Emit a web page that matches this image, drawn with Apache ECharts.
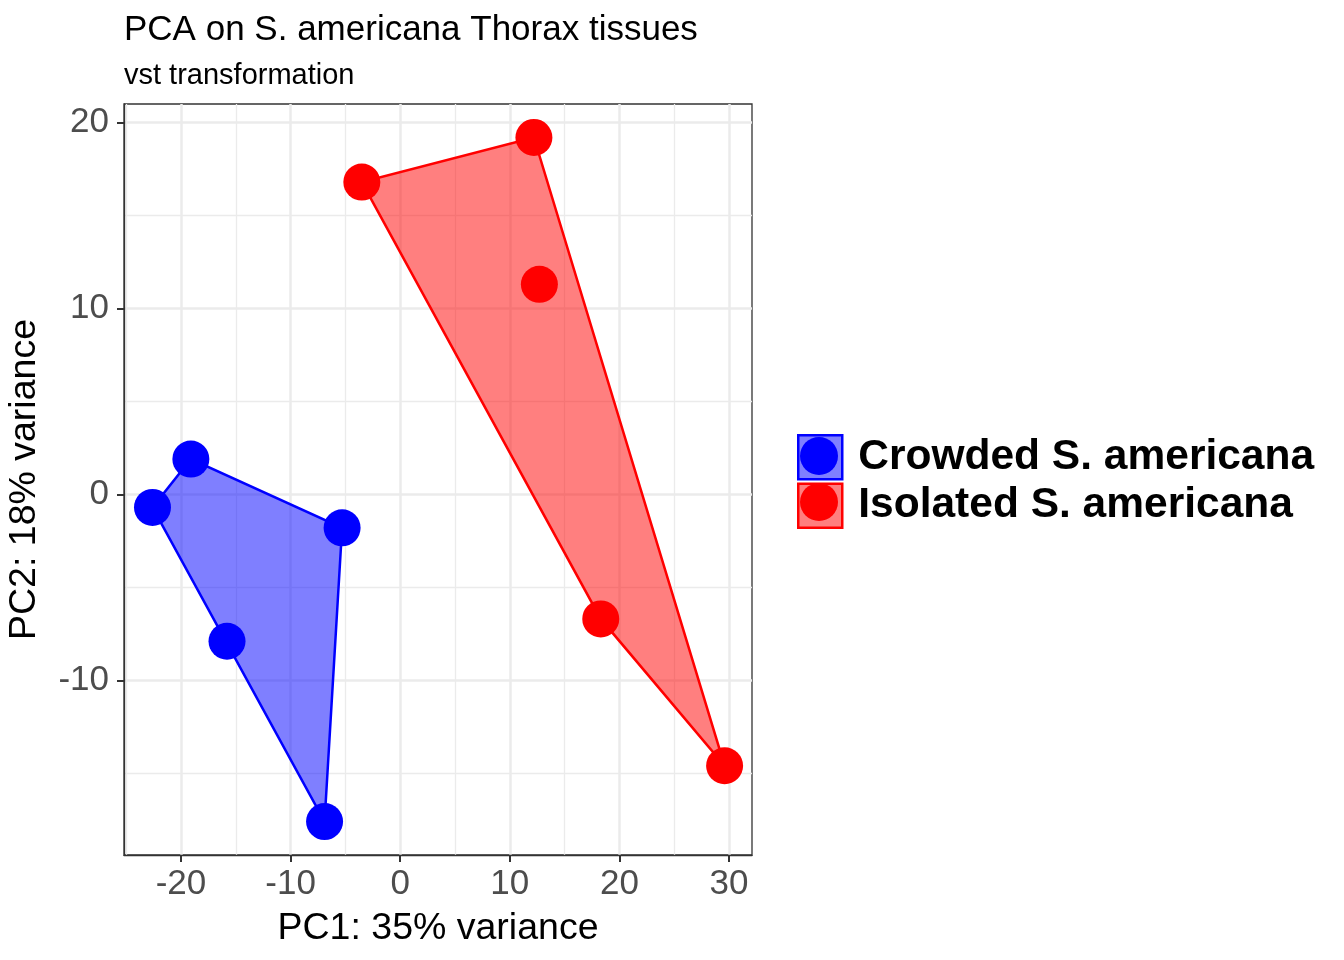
<!DOCTYPE html>
<html>
<head>
<meta charset="utf-8">
<title>PCA on S. americana Thorax tissues</title>
<script src="https://cdn.jsdelivr.net/npm/echarts@6.0.0/dist/echarts.min.js"></script>
<style>
  html, body { margin: 0; padding: 0; background: #fff; }
  #chart { width: 1344px; height: 960px; }
</style>
</head>
<body>
<div id="chart"></div>
<script>
// groups and sample coordinates
var groups = ['Crowded S. americana', 'Isolated S. americana'];
var crowdedPC1 = [-19.1, -22.6, -5.3, -15.8, -6.9];
var crowdedPC2 = [1.9, -0.7, -1.8, -7.9, -17.6];
var isolatedPC1 = [-3.5, 12.2, 12.7, 18.3, 29.6];
var isolatedPC2 = [16.8, 19.2, 11.3, -6.7, -14.6];

var xTicks = [-20, -10, 0, 10, 20, 30];
var yTicks = [-10, 0, 10, 20];
var xMinor = [-25, -15, -5, 5, 15, 25];
var yMinor = [-15, -5, 5, 15];

var font = 'Liberation Sans, Arial, Helvetica, sans-serif';

function zip(xs, ys) {
	return xs.map(function (x, i) { return [x, ys[i]]; });
}

// convex hull (monotone chain), same as chull() in R
function hull(pts) {
	var p = pts.slice().sort(function (a, b) { return a[0] - b[0] || a[1] - b[1]; });
	function cross(o, a, b) {
		return (a[0] - o[0]) * (b[1] - o[1]) - (a[1] - o[1]) * (b[0] - o[0]);
	}
	var lower = [], upper = [];
	p.forEach(function (q) {
		while (lower.length >= 2 && cross(lower[lower.length - 2], lower[lower.length - 1], q) <= 0) lower.pop();
		lower.push(q);
	});
	p.slice().reverse().forEach(function (q) {
		while (upper.length >= 2 && cross(upper[upper.length - 2], upper[upper.length - 1], q) <= 0) upper.pop();
		upper.push(q);
	});
	return lower.slice(0, -1).concat(upper.slice(0, -1));
}

var crowded = zip(crowdedPC1, crowdedPC2);
var isolated = zip(isolatedPC1, isolatedPC2);
var colors = ['#0000ff', '#ff0000'];
var fills = ['rgba(0,0,255,0.5)', 'rgba(255,0,0,0.5)'];

function hullSeries(name, pts, color, fill) {
	var h = hull(pts);
	return {
		name: name,
		type: 'custom',
		z: 1,
		silent: true,
		data: h,
		renderItem: function (params, api) {
			if (params.dataIndex !== 0) return null;
			return {
				type: 'polygon',
				shape: { points: h.map(function (q) { return api.coord(q); }) },
				style: { fill: fill, stroke: color, lineWidth: 2.5 }
			};
		}
	};
}

function pointSeries(name, pts, color) {
	return {
		name: name,
		type: 'scatter',
		z: 2,
		symbolSize: 37,
		itemStyle: { color: color, opacity: 1 },
		data: pts
	};
}

var minorLines = xMinor.map(function (v) { return { xAxis: v }; })
	.concat(yMinor.map(function (v) { return { yAxis: v }; }));

var series = [
	pointSeries(groups[0], crowded, colors[0]),
	pointSeries(groups[1], isolated, colors[1]),
	hullSeries(groups[0], crowded, colors[0], fills[0]),
	hullSeries(groups[1], isolated, colors[1], fills[1])
];
series[0].markLine = {
	silent: true,
	z: 0,
	symbol: 'none',
	animation: false,
	label: { show: false },
	lineStyle: { color: '#ebebeb', width: 1.3, type: 'solid' },
	emphasis: { disabled: true },
	data: minorLines
};

var chart = echarts.init(document.getElementById('chart'));
chart.setOption({
	animation: false,
	backgroundColor: '#ffffff',
	title: {
		text: 'PCA on S. americana Thorax tissues',
		subtext: 'vst transformation',
		left: 124,
		top: 13,
		padding: 0,
		itemGap: 13,
		textStyle: { fontFamily: font, fontSize: 35, fontWeight: 'normal', color: '#000' },
		subtextStyle: { fontFamily: font, fontSize: 29, color: '#000' }
	},
	legend: [{
		orient: 'vertical',
		left: 797,
		top: 434,
		padding: 0,
		itemWidth: 44,
		itemHeight: 44,
		itemGap: 2,
		textStyle: { fontFamily: font, fontSize: 42.5, fontWeight: 'bold', color: '#000', padding: [4, 0, 0, 11] },
		data: [
			{ name: groups[0], icon: 'rect', itemStyle: { color: fills[0], borderColor: colors[0], borderWidth: 2.5 } },
			{ name: groups[1], icon: 'rect', itemStyle: { color: fills[1], borderColor: colors[1], borderWidth: 2.5 } }
		]
	}, {
		orient: 'vertical',
		left: 800,
		top: 437,
		padding: 0,
		itemWidth: 38,
		itemHeight: 38,
		itemGap: 8,
		textStyle: { fontSize: 10, color: 'rgba(0,0,0,0)' },
		data: [
			{ name: groups[0], icon: 'circle', itemStyle: { color: colors[0], borderWidth: 0 } },
			{ name: groups[1], icon: 'circle', itemStyle: { color: colors[1], borderWidth: 0 } }
		]
	}],
	grid: {
		left: 124,
		top: 104,
		right: 592,
		bottom: 105,
		show: true,
		borderColor: '#333333',
		borderWidth: 1.3,
		backgroundColor: 'transparent'
	},
	xAxis: {
		type: 'value',
		min: -25.2,
		max: 32.1,
		name: 'PC1: 35% variance',
		nameLocation: 'middle',
		nameGap: 55,
		nameTextStyle: { fontFamily: font, fontSize: 37.5, color: '#000' },
		axisLine: { show: true, onZero: false, lineStyle: { color: '#333333', width: 1.3 } },
		axisTick: { show: true, customValues: xTicks, length: 7, lineStyle: { color: '#333333', width: 2 } },
		axisLabel: { customValues: xTicks, fontFamily: font, fontSize: 35, color: '#4d4d4d', margin: 12 },
		splitLine: { show: true, lineStyle: { color: '#ebebeb', width: 2.5 } }
	},
	yAxis: {
		type: 'value',
		min: -19.4,
		max: 21.0,
		name: 'PC2: 18% variance',
		nameLocation: 'middle',
		nameGap: 80,
		nameTextStyle: { fontFamily: font, fontSize: 37.5, color: '#000' },
		axisLine: { show: true, onZero: false, lineStyle: { color: '#333333', width: 1.3 } },
		axisTick: { show: true, customValues: yTicks, length: 7, lineStyle: { color: '#333333', width: 2 } },
		axisLabel: { customValues: yTicks, fontFamily: font, fontSize: 35, color: '#4d4d4d', margin: 15 },
		splitLine: { show: true, lineStyle: { color: '#ebebeb', width: 2.5 } }
	},
	series: series
});
</script>
</body>
</html>
